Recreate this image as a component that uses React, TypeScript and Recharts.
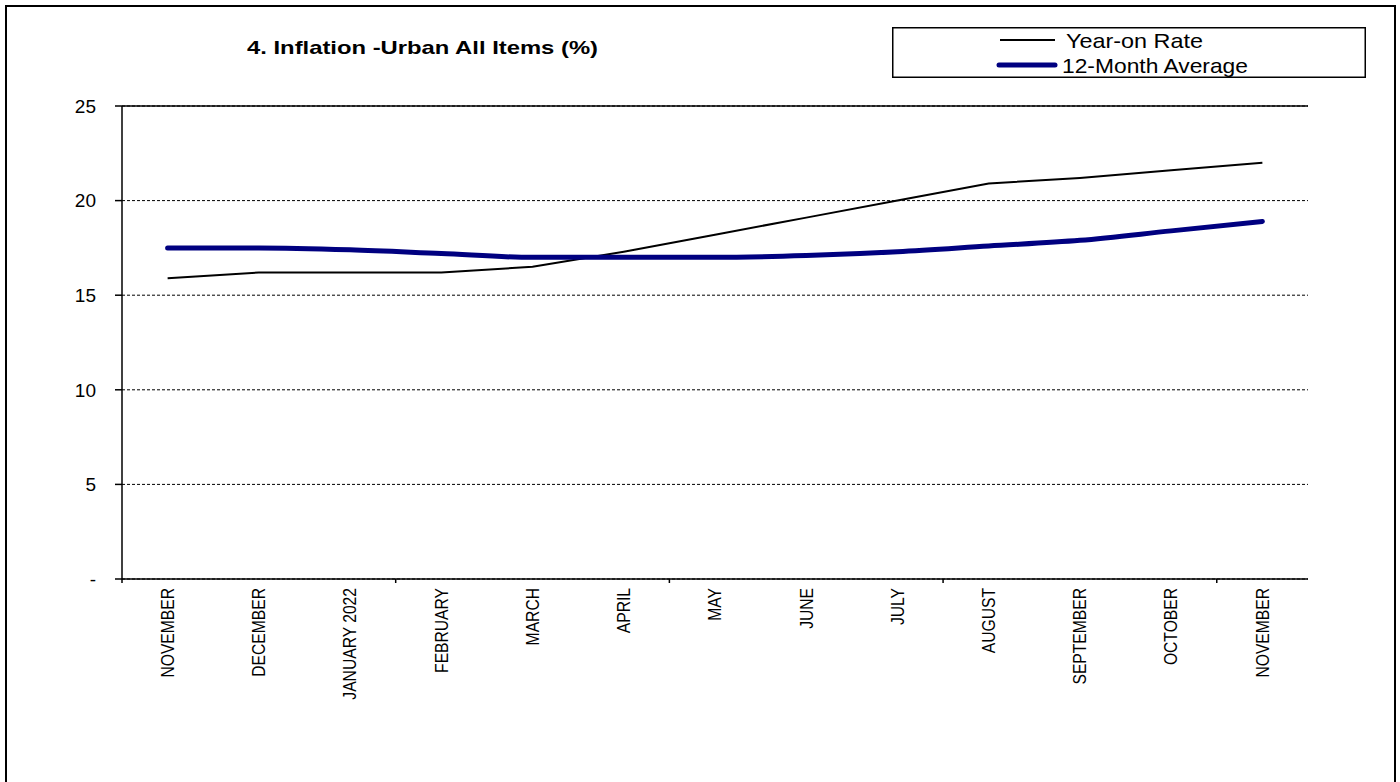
import React from 'react';
import {
  LineChart,
  Line,
  XAxis,
  YAxis,
  CartesianGrid,
  ReferenceLine,
} from 'recharts';

const months = [
  'NOVEMBER',
  'DECEMBER',
  'JANUARY 2022',
  'FEBRUARY',
  'MARCH',
  'APRIL',
  'MAY',
  'JUNE',
  'JULY',
  'AUGUST',
  'SEPTEMBER',
  'OCTOBER',
  'NOVEMBER',
];
const yearOnRate = [15.9, 16.2, 16.2, 16.2, 16.5, 17.3, 18.2, 19.1, 20.0, 20.9, 21.2, 21.6, 22.0];
const twelveMonthAvg = [17.5, 17.5, 17.4, 17.2, 17.0, 17.0, 17.0, 17.1, 17.3, 17.6, 17.9, 18.4, 18.9];
const yTicks = [0, 5, 10, 15, 20, 25];

const data = months.map((m, i) => ({
  month: m,
  yoy: yearOnRate[i],
  avg: twelveMonthAvg[i],
}));

const FONT = '"Liberation Sans", Arial, sans-serif';
const HALF_BAND = 1186 / months.length / 2;

const MonthTick = (props: any) => {
  const { x, y, payload, index } = props;
  return (
    <g>
      {index % 3 === 0 && (
        <line x1={x - HALF_BAND} x2={x - HALF_BAND} y1={y} y2={y + 4} stroke="#000" strokeWidth={1.5} />
      )}
      <g transform={`translate(${x},${y + 9}) rotate(-90)`}>
        <text
          x={0}
          y={0}
          dy="0.35em"
          textAnchor="end"
          transform="scale(0.87,1)"
          fontSize={18}
          fontFamily={FONT}
          fill="#000"
        >
          {payload.value}
        </text>
      </g>
    </g>
  );
};

const LegendBox = () => (
  <svg width={474} height={51} style={{ display: 'block' }}>
    <rect x={0.75} y={0.75} width={472.5} height={49.5} fill="#fff" stroke="#000" strokeWidth={1.5} />
    <line x1={108} x2={163} y1={13} y2={13} stroke="#000" strokeWidth={2} />
    <text x={174} y={13} dy="0.36em" fontSize={21} fontFamily={FONT} textLength={137} lengthAdjust="spacingAndGlyphs">
      Year-on Rate
    </text>
    <line x1={107} x2={163} y1={38} y2={38} stroke="#000080" strokeWidth={5} strokeLinecap="round" />
    <text x={170} y={38} dy="0.36em" fontSize={21} fontFamily={FONT} textLength={186} lengthAdjust="spacingAndGlyphs">
      12-Month Average
    </text>
  </svg>
);

export default function App() {
  return (
    <div
      style={{
        position: 'absolute',
        left: 0,
        top: 0,
        width: 1400,
        height: 782,
        background: '#fff',
        overflow: 'hidden',
      }}
    >
      <div
        style={{
          position: 'absolute',
          left: 5,
          top: 5,
          width: 1387,
          height: 800,
          border: '2px solid #000',
        }}
      />
      <svg width={1400} height={80} style={{ position: 'absolute', left: 0, top: 0 }}>
        <text
          x={247}
          y={54}
          fontSize={19}
          fontWeight="bold"
          fontFamily={FONT}
          textLength={351}
          lengthAdjust="spacingAndGlyphs"
        >
          4. Inflation  -Urban All  Items (%)
        </text>
      </svg>
      <div style={{ position: 'absolute', left: 892, top: 27 }}>
        <LegendBox />
      </div>
      <div style={{ position: 'absolute', left: 0, top: 0 }}>
        <LineChart
          width={1400}
          height={782}
          data={data}
          margin={{ top: 106, right: 92, bottom: 53, left: 62 }}
        >
          <CartesianGrid vertical={false} stroke="#000" strokeDasharray="3 2" strokeWidth={1} />
          <XAxis
            dataKey="month"
            interval={0}
            height={150}
            padding={{ left: HALF_BAND, right: HALF_BAND }}
            tickSize={0}
            tickMargin={0}
            tickLine={false}
            axisLine={{ stroke: '#000', strokeWidth: 1.5 }}
            tick={<MonthTick />}
          />
          <YAxis
            domain={[0, 25]}
            ticks={yTicks}
            width={60}
            tickSize={7}
            tickMargin={19}
            interval={0}
            tickFormatter={(v: number) => (v === 0 ? '-' : String(v))}
            tick={{ fill: '#000', fontSize: 19, fontFamily: FONT }}
            tickLine={{ stroke: '#000', strokeWidth: 1.5 }}
            axisLine={{ stroke: '#000', strokeWidth: 1.5 }}
          />
          <YAxis
            yAxisId="right"
            orientation="right"
            domain={[0, 25]}
            width={0}
            tick={false}
            tickLine={false}
            axisLine={{ stroke: '#000', strokeWidth: 1.5 }}
          />
          <ReferenceLine y={25} stroke="#000" strokeWidth={1.5} />
          <Line
            type="linear"
            dataKey="yoy"
            name="Year-on Rate"
            stroke="#000"
            strokeWidth={2}
            dot={false}
            isAnimationActive={false}
          />
          <Line
            type="monotone"
            dataKey="avg"
            name="12-Month Average"
            stroke="#000080"
            strokeWidth={5}
            strokeLinecap="round"
            dot={false}
            isAnimationActive={false}
          />
        </LineChart>
      </div>
    </div>
  );
}
